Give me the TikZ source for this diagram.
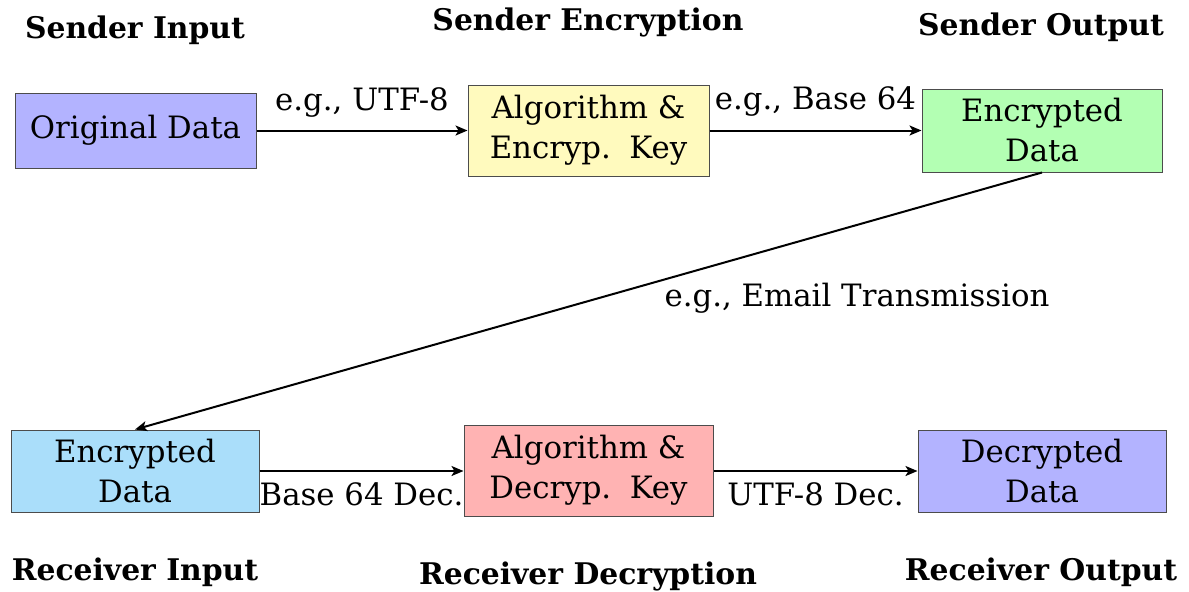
\documentclass[tikz,border=0pt]{standalone}
\usepackage{fontspec}
\setmainfont{DejaVu Serif}
\usetikzlibrary{arrows.meta}
\definecolor{boxblue}{RGB}{179,179,255}
\definecolor{boxyellow}{RGB}{255,250,190}
\definecolor{boxgreen}{RGB}{179,255,179}
\definecolor{boxcyan}{RGB}{170,222,250}
\definecolor{boxred}{RGB}{255,179,179}
\tikzset{
  every node/.style={font=\fontsize{15.4}{20}\selectfont},
  procbox/.style={draw=black!70, line width=0.5pt, align=center, inner sep=0pt},
  title/.style={font=\fontsize{14.9}{20}\selectfont\bfseries},
  conn/.style={line width=1pt, -{Stealth[length=6pt,width=5pt,inset=1.5pt]}},
  lbl/.style={inner sep=0pt, midway}
}
\begin{document}
\begin{tikzpicture}[x=0.5pt,y=-0.5pt]
\useasboundingbox (0,0) rectangle (1189,591);
% titles
\node[title] (t1) at (135,30) {Sender Input};
\node[title] (t2) at (588,22) {Sender Encryption};
\node[title] (t3) at (1041,27) {Sender Output};
\node[title] (t4) at (135,572) {Receiver Input};
\node[title] (t5) at (588,576) {Receiver Decryption};
\node[title] (t6) at (1041,572) {Receiver Output};
% boxes
\node[procbox, fill=boxblue, minimum width=120.5pt, minimum height=37.5pt] (orig) at (135.5,130.5) {Original Data};
\node[procbox, fill=boxyellow, minimum width=120.5pt, minimum height=45.5pt] (enc) at (588.5,130.5) {Algorithm \&\\Encryp.\hspace{0.6em}Key};
\node[procbox, fill=boxgreen, minimum width=120pt, minimum height=41.5pt] (encd) at (1042,130.5) {Encrypted\\Data};
\node[procbox, fill=boxcyan, minimum width=124pt, minimum height=41pt] (recv) at (135,471) {Encrypted\\Data};
\node[procbox, fill=boxred, minimum width=124.5pt, minimum height=45.5pt] (dec) at (588.5,470.5) {Algorithm \&\\Decryp.\hspace{0.6em}Key};
\node[procbox, fill=boxblue, minimum width=124pt, minimum height=41pt] (decd) at (1042,471) {Decrypted\\Data};
% connectors
\draw[conn] (orig) -- node[lbl, yshift=14pt] {e.g., UTF-8} (enc);
\draw[conn] (enc.east |- orig) -- node[lbl, yshift=14.5pt] {e.g., Base 64} (encd.west |- orig);
\draw[conn] (encd.south) -- (recv.north);
\node[inner sep=0pt] (email) at (857,298) {e.g., Email Transmission};
\draw[conn] (recv) -- node[lbl, yshift=-11.5pt] {Base 64 Dec.} (dec.west |- recv);
\draw[conn] (dec.east |- recv) -- node[lbl, yshift=-11.5pt] {UTF-8 Dec.} (decd);
\end{tikzpicture}
\end{document}
